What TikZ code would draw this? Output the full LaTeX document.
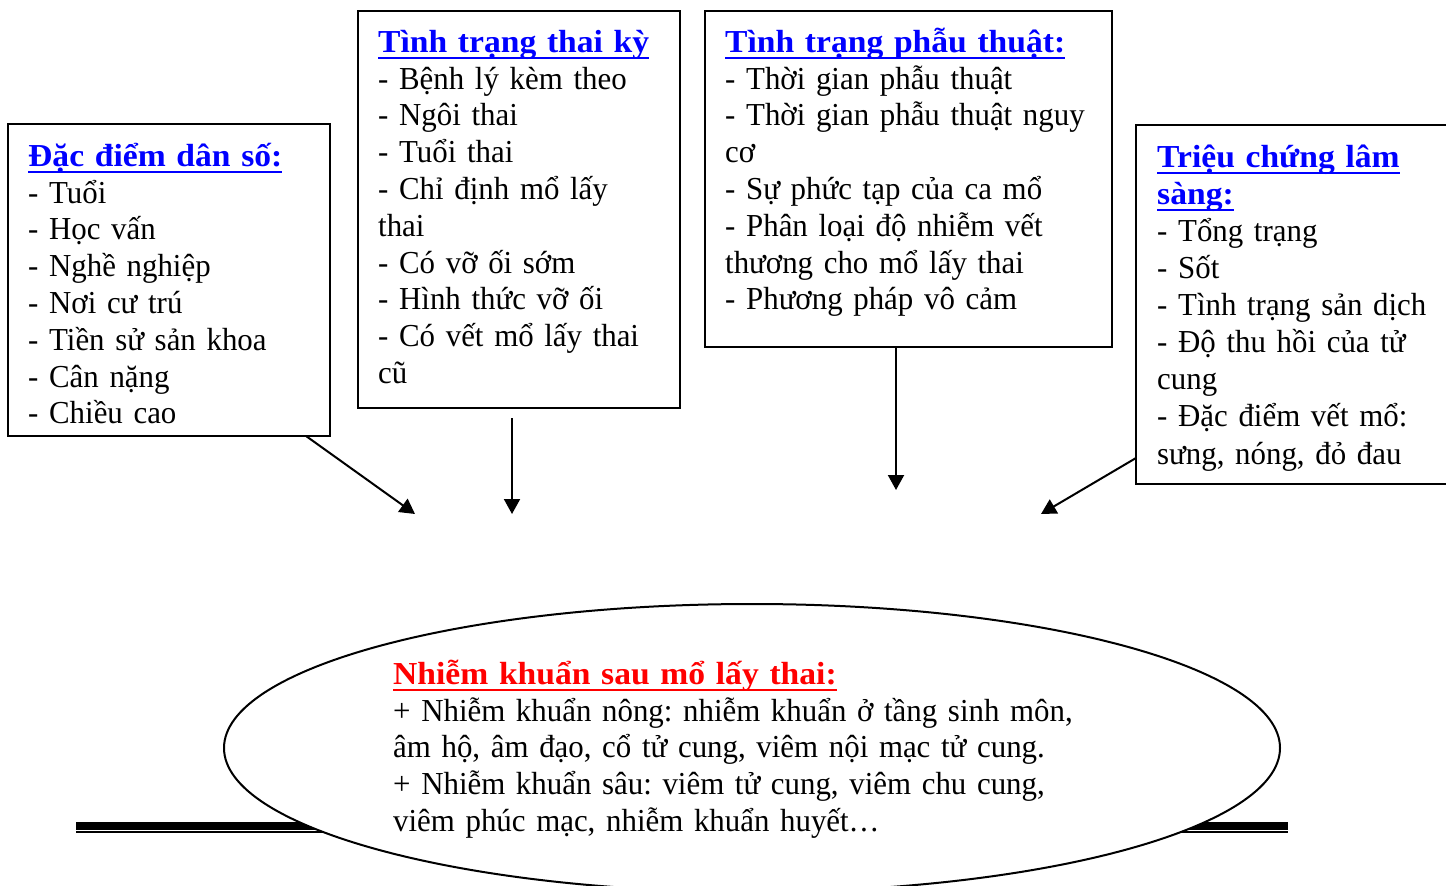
\documentclass[tikz,border=0pt]{standalone}
\usepackage{fontspec}
\setmainfont{Liberation Serif}[FakeStretch=0.965, BoldFeatures={FakeStretch=1.05}]
\usetikzlibrary{arrows.meta,shapes.geometric}
\definecolor{ublue}{RGB}{0,0,255}
\definecolor{ured}{RGB}{255,0,0}
\newcommand\myul[1]{\leavevmode\setbox0\hbox{#1}\rlap{\rule[-7pt]{\wd0}{2.5pt}}\box0}
\newcommand\ttl[2]{\leavevmode{\color{#1}\bfseries\myul{#2}}}
\tikzset{
  box/.style={draw, line width=2pt, anchor=north west, inner sep=0pt, outer sep=0pt},
  txt/.style={anchor=north west, inner sep=0pt, align=left, text width=430pt,
    font=\fontsize{32}{36.8}\selectfont},
  arr/.style={line width=2pt, -{Triangle[length=15pt,width=16pt]}},
  ell/.style={ellipse, draw, fill=white, line width=2pt, inner sep=0pt}
}
\begin{document}
\lineskiplimit=-100pt
\frenchspacing
\begin{tikzpicture}[x=1pt,y=-1pt]
\useasboundingbox (0,0) rectangle (1446,886);
\clip (0,0) rectangle (1446,886);
% bottom double rule
\draw[line width=8pt] (76,826) -- (1288,826);
\draw[line width=2pt] (76,832.2) -- (1288,832.2);
% ellipse
\node[ell, minimum width=1056pt, minimum height=288pt] (ell) at (752,748) {};
\node[txt, text width=760pt] (t5) at (393,652) {\rule{0pt}{32pt}\ttl{ured}{Nhiễm khuẩn sau mổ lấy thai:}\\
+ Nhiễm khuẩn nông: nhiễm khuẩn ở tầng sinh môn,\\
âm hộ, âm đạo, cổ tử cung, viêm nội mạc tử cung.\\
+ Nhiễm khuẩn sâu: viêm tử cung, viêm chu cung,\\
viêm phúc mạc, nhiễm khuẩn huyết…};
% boxes
\node[box, minimum width=322pt, minimum height=312pt] (b1) at (8,124) {};
\node[box, minimum width=322pt, minimum height=397pt] (b2) at (358,11) {};
\node[box, minimum width=407pt, minimum height=336pt] (b3) at (705,11) {};
\node[box, minimum width=340pt, minimum height=359pt] (b4) at (1136,125) {};
\node[txt] (t1) at (28,134) {\rule{0pt}{32pt}\ttl{ublue}{Đặc điểm dân số:}\\
- Tuổi\\
- Học vấn\\
- Nghề nghiệp\\
- Nơi cư trú\\
- Tiền sử sản khoa\\
- Cân nặng\\
- Chiều cao};
\node[txt] (t2) at (378,20) {\rule{0pt}{32pt}\ttl{ublue}{Tình trạng thai kỳ}\\
- Bệnh lý kèm theo\\
- Ngôi thai\\
- Tuổi thai\\
- Chỉ định mổ lấy\\
thai\\
- Có vỡ ối sớm\\
- Hình thức vỡ ối\\
- Có vết mổ lấy thai\\
cũ};
\node[txt] (t3) at (725,20) {\rule{0pt}{32pt}\ttl{ublue}{Tình trạng phẫu thuật:}\\
- Thời gian phẫu thuật\\
- Thời gian phẫu thuật nguy\\
cơ\\
- Sự phức tạp của ca mổ\\
- Phân loại độ nhiễm vết\\
thương cho mổ lấy thai\\
- Phương pháp vô cảm};
\node[txt, font=\fontsize{32}{37.1}\selectfont] (t4) at (1157,135) {\rule{0pt}{32pt}\ttl{ublue}{Triệu chứng lâm}\\
\ttl{ublue}{sàng:}\\
- Tổng trạng\\
- Sốt\\
- Tình trạng sản dịch\\
- Độ thu hồi của tử\\
cung\\
- Đặc điểm vết mổ:\\
sưng, nóng, đỏ đau};
% arrow ends
\coordinate (e1) at (415,514);
\coordinate (e2) at (512,514);
\coordinate (e3) at (896,490);
\coordinate (e4) at (1041,514);
\coordinate (s2) at ([yshift=-10pt]b2.south);
\draw[arr] ([xshift=-24pt]b1.south east) -- (e1);
\draw[arr] (s2 -| e2) -- (e2);
\draw[arr] (b3.south -| e3) -- (e3);
\draw[arr] ([yshift=26pt]b4.south west) -- (e4);
\end{tikzpicture}
\end{document}
